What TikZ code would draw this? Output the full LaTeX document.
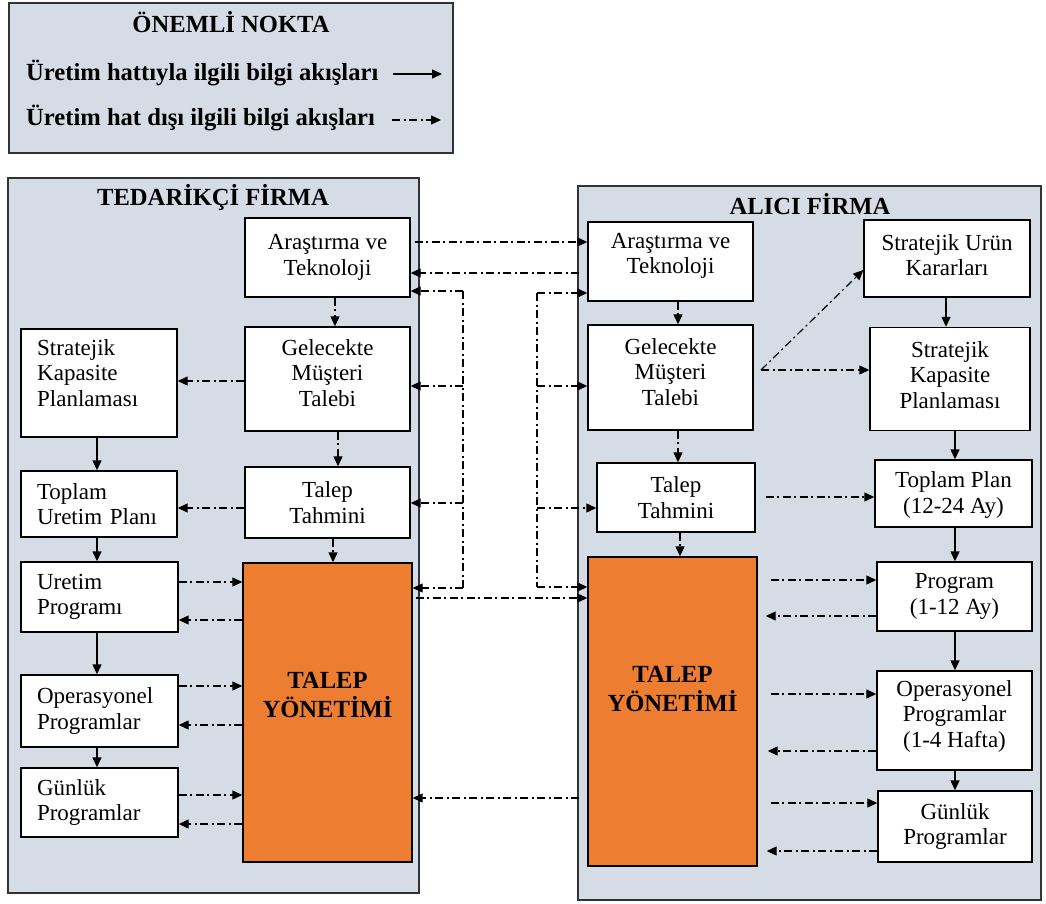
\documentclass[tikz,border=0pt]{standalone}
\usepackage{fontspec}
\setmainfont{Liberation Serif}
\usetikzlibrary{arrows.meta}
\definecolor{panelfill}{HTML}{D6DCE5}
\definecolor{tyorange}{HTML}{ED7D31}
\newcommand\bxfont{\fontsize{23}{25.5}\selectfont}
\newcommand\ttlfont{\fontsize{24.6}{29}\selectfont\bfseries}
\newcommand\tyfont{\fontsize{24.6}{29}\selectfont\bfseries}
\begin{document}
\begin{tikzpicture}[x=1pt,y=-1pt,
  panelbox/.style={draw=black!80, line width=1.4pt, fill=panelfill, inner sep=0pt},
  sz/.style 2 args={minimum width=#1pt, minimum height=#2pt},
  box/.style={draw=black, line width=1.4pt, fill=white, inner sep=0pt, align=center, font=\bxfont},
  lbox/.style={box, align=left, text width=#1pt},
  boxtext/.style={inner sep=0pt, font=\bxfont},
  tybox/.style={draw=black, line width=1.4pt, fill=tyorange, inner sep=0pt},
  tip/.style={-{Triangle[length=10pt,width=9pt]}},
  solidarrow/.style={tip, line width=1.4pt},
  flowline/.style={line width=1.2pt, dash pattern=on 8pt off 3.5pt on 2pt off 3.5pt},
  flow/.style={flowline, tip},
]
\useasboundingbox (0,0) rectangle (1046,904);

% ---------- legend ----------
\node[panelbox, sz={444}{150}] (legend) at (231,78) {};
\node[font=\ttlfont] (legtitle) at (231,22) {ÖNEMLİ NOKTA};
\node[font=\ttlfont, anchor=west, inner sep=0pt] (leg1) at (26,73) {Üretim hattıyla ilgili bilgi akışları};
\node[font=\ttlfont, anchor=west, inner sep=0pt] (leg2) at (26,118) {Üretim hat dışı ilgili bilgi akışları};
\coordinate (la1) at (393,74);
\coordinate (lb1) at (442,74);
\coordinate (la2) at (392,120);
\coordinate (lb2) at (441,120);
\draw[solidarrow] (la1) -- (lb1);
\draw[flow] (la2) -- (lb2);

% ---------- panels ----------
\node[panelbox, sz={411}{715}] (lpanel) at (213.5,535.5) {};
\node[panelbox, sz={463}{714}] (rpanel) at (809.5,543) {};
\node[font=\ttlfont] (ltitle) at (213,197) {TEDARİKÇİ FİRMA};
\node[font=\ttlfont] (rtitle) at (810,204) {ALICI FİRMA};

% ---------- supplier side ----------
\node[box, sz={165}{79}] (lrd) at (327.5,257.5) {Araştırma ve\\Teknoloji};
\node[box, sz={165}{104}] (lgel) at (327.5,379) {};
\node[boxtext, align=center] (lgeltext) at (327.5,373) {Gelecekte\\Müşteri\\Talebi};
\node[box, sz={165}{71}] (ltah) at (327.5,502.5) {Talep\\Tahmini};
\node[tybox, sz={169}{299}] (lty) at (327.5,712.5) {};
\node[font=\tyfont, align=center] (ltytext) at (327.5,695) {TALEP\\YÖNETİMİ};

\node[box, sz={156}{108}] (lskp) at (99,383) {};
\node[boxtext, align=left, anchor=north west] (lskptext) at (37,339) {Stratejik\\Kapasite\\Planlaması};
\node[lbox=124, sz={156}{66}] (ltop) at (99,504) {Toplam\\Uretim Planı};
\node[lbox=125, sz={157}{70}] (luret) at (99.5,597) {Uretim\\Programı};
\node[lbox=125, sz={157}{72}] (lops) at (99.5,711) {Operasyonel\\Programlar};
\node[lbox=125, sz={157}{69}] (lgun) at (99.5,802.5) {Günlük\\Programlar};

% ---------- buyer side ----------
\node[box, sz={165}{79}] (rrd) at (670.5,261.5) {};
\node[boxtext, align=center] (rrdtext) at (670.5,256) {Araştırma ve\\Teknoloji};
\node[box, sz={165}{105}] (rgel) at (670.5,377.5) {};
\node[boxtext, align=center] (rgeltext) at (670.5,372) {Gelecekte\\Müşteri\\Talebi};
\node[box, sz={158}{69}] (rtah) at (676,497.5) {Talep\\Tahmini};
\node[tybox, sz={169}{309}] (rty) at (672.5,711.5) {};
\node[font=\tyfont, align=center] (rtytext) at (672.5,689) {TALEP\\YÖNETİMİ};

\node[box, sz={166}{77}] (rsur) at (947,258.5) {};
\node[boxtext, align=center] (rsurtext) at (947,255) {Stratejik Urün\\Kararları};
\node[box, sz={160}{103}] (rskp) at (950,379) {};
\node[boxtext, align=center] (rskptext) at (950,375) {Stratejik\\Kapasite\\Planlaması};
\node[box, sz={157}{67}] (rtop) at (953.5,493.5) {};
\node[boxtext, align=center] (rtoptext) at (953.5,495) {Toplam Plan\\(12-24 Ay)};
\node[box, sz={155}{69}] (rprog) at (954.5,596.5) {Program\\(1-12 Ay)};
\node[box, sz={155}{99}] (rops) at (954.5,720.5) {};
\node[boxtext, align=center] (ropstext) at (954.5,716) {Operasyonel\\Programlar\\(1-4 Hafta)};
\node[box, sz={154}{71}] (rgun) at (955,826.5) {Günlük\\Programlar};

% ---------- supplier flows ----------
\draw[flow] (lrd.south -| 335,0) -- (lgel.north -| 335,0);
\draw[flow] (lgel.south -| 338,0) -- (ltah.north -| 338,0);
\draw[flow] (ltah.south -| 333,0) -- (lty.north -| 333,0);
\draw[flow] (lgel.west |- 0,381) -- (lskp.east |- 0,381);
\draw[flow] (ltah.west |- 0,508) -- (ltop.east |- 0,508);

\draw[solidarrow] (lskp.south -| 97,0) -- (ltop.north -| 97,0);
\draw[solidarrow] (ltop.south -| 97,0) -- (luret.north -| 97,0);
\draw[solidarrow] (luret.south -| 97,0) -- (lops.north -| 97,0);
\draw[solidarrow] (lops.south -| 97,0) -- (lgun.north -| 97,0);

\draw[flow] (luret.east |- 0,582) -- (lty.west |- 0,582);
\draw[flow] (lty.west |- 0,620) -- (luret.east |- 0,620);
\draw[flow] (lops.east |- 0,686) -- (lty.west |- 0,686);
\draw[flow] (lty.west |- 0,725) -- (lops.east |- 0,725);
\draw[flow] (lgun.east |- 0,795) -- (lty.west |- 0,795);
\draw[flow] (lty.west |- 0,824) -- (lgun.east |- 0,824);

% ---------- buyer flows ----------
\draw[flow] (rrd.south -| 678,0) -- (rgel.north -| 678,0);
\draw[flow] (rgel.south -| 678,0) -- (rtah.north -| 678,0);
\draw[flow] (rtah.south -| 680,0) -- (rty.north -| 680,0);
\coordinate (rfork) at (761,370);
\draw[flow] (rfork) -- (rsur.west |- 0,270);
\draw[flow] (rfork) -- (rskp.west |- rfork);
\draw[flow, shorten <=10pt] (rtah.east |- 0,497) -- (rtop.west |- 0,497);

\draw[solidarrow] (rsur.south -| 946,0) -- (rskp.north -| 946,0);
\draw[solidarrow] (rskp.south -| 955,0) -- (rtop.north -| 955,0);
\draw[solidarrow] (rtop.south -| 955,0) -- (rprog.north -| 955,0);
\draw[solidarrow] (rprog.south -| 955,0) -- (rops.north -| 955,0);
\draw[solidarrow] (rops.south -| 955,0) -- (rgun.north -| 955,0);

\draw[flow, shorten <=13pt] (rty.east |- 0,580) -- (rprog.west |- 0,580);
\draw[flow, shorten >=8pt] (rprog.west |- 0,616) -- (rty.east |- 0,616);
\draw[flow, shorten <=13pt] (rty.east |- 0,694) -- (rops.west |- 0,694);
\draw[flow, shorten >=10pt] (rops.west |- 0,751) -- (rty.east |- 0,751);
\draw[flow, shorten <=13pt] (rty.east |- 0,803) -- (rgun.west |- 0,803);
\draw[flow, shorten >=9pt] (rgun.west |- 0,851) -- (rty.east |- 0,851);

% ---------- flows between the firms ----------
\draw[flow, shorten <=4pt] (lrd.east |- 0,242) -- (rrd.west |- 0,242);
\draw[flow, shorten <=8pt] (rrd.west |- 0,273) -- (lrd.east |- 0,273);

\coordinate (lbtop) at (463,291);
\coordinate (lbbot) at (463,588);
\draw[flowline] (lbtop) -- (lbbot);
\draw[flow] (lbtop) -- (lrd.east |- lbtop);
\draw[flow] (lbtop |- 0,386) -- (lgel.east |- 0,386);
\draw[flow] (lbtop |- 0,503) -- (ltah.east |- 0,503);
\draw[flow] (lbbot) -- (lty.east |- lbbot);

\coordinate (rbtop) at (537,293);
\coordinate (rbbot) at (537,587);
\draw[flowline] (rbtop) -- (rbbot);
\draw[flow] (rbtop) -- (rrd.west |- rbtop);
\draw[flow] (rbtop |- 0,386) -- (rgel.west |- 0,386);
\draw[flow] (rbtop |- 0,508) -- (rtah.west |- 0,508);
\draw[flow] (rbbot) -- (rty.west |- rbbot);

\draw[flow, shorten <=3pt] (lty.east |- 0,598) -- (rty.west |- 0,598);
\draw[flow, shorten <=8pt] (rty.west |- 0,798) -- (lty.east |- 0,798);
\end{tikzpicture}
\end{document}
